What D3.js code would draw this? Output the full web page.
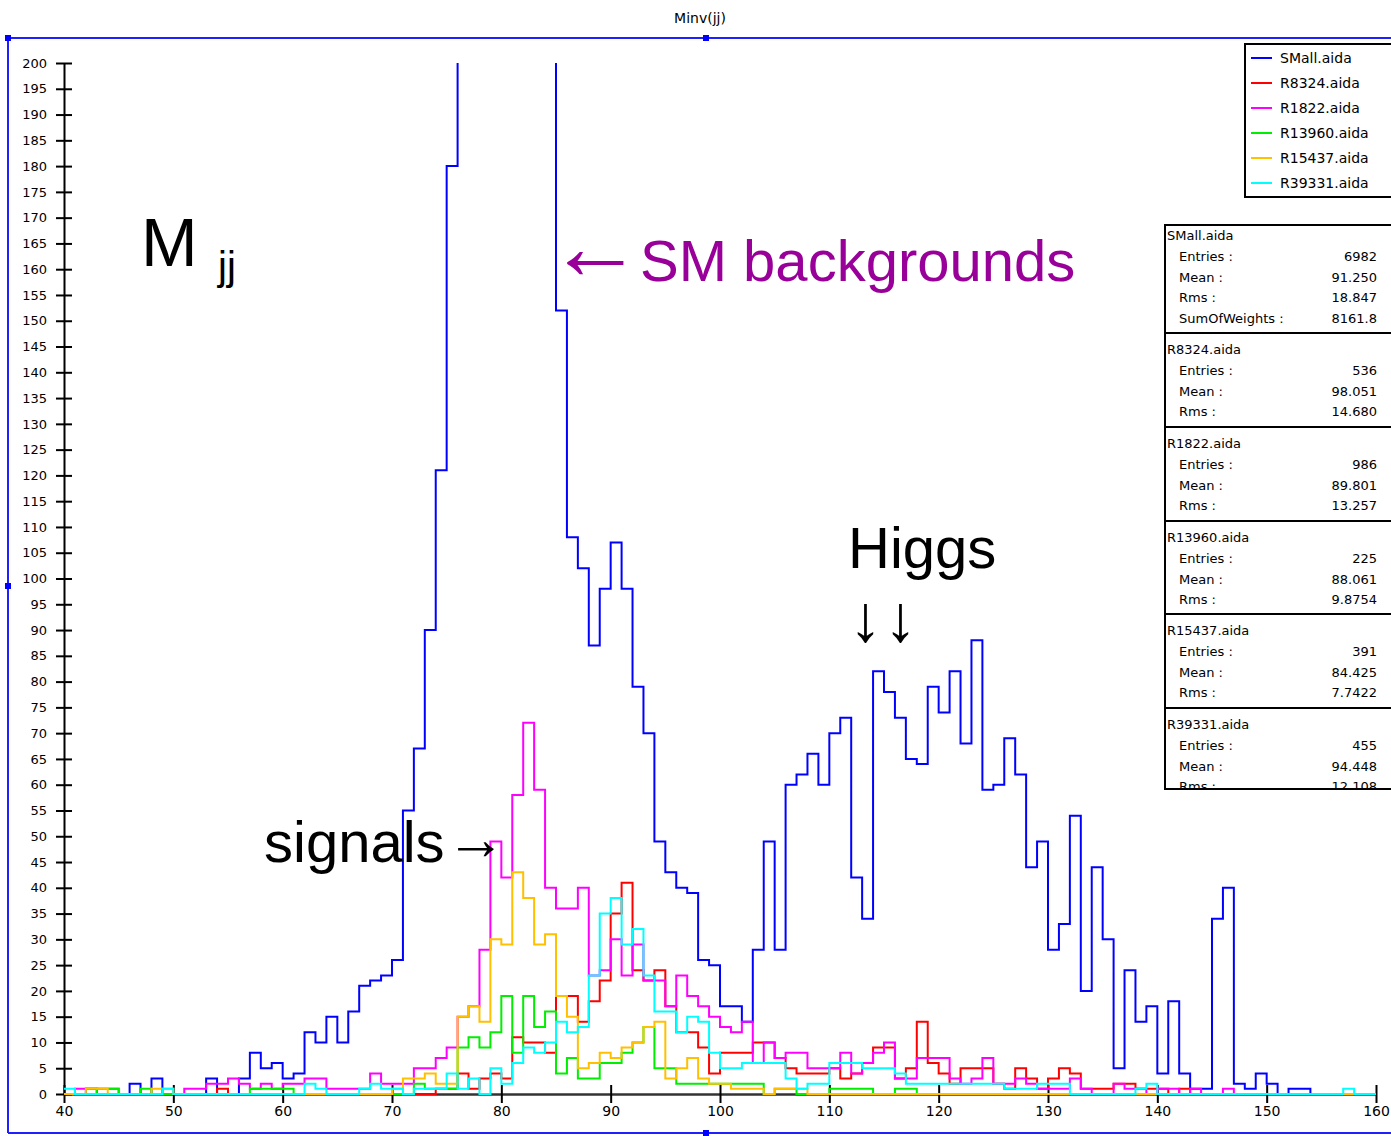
<!DOCTYPE html>
<html><head><meta charset="utf-8">
<script src="https://cdn.jsdelivr.net/npm/d3@7"></script>
<style>body{margin:0;background:#fff;}svg{display:block;}</style>
</head><body>
<svg id="c" width="1391" height="1136"></svg>
<script>
// ---------- data (bins of width 1 from 40 to 160) ----------
const binLow = 40, binHigh = 160;
const seriesNames = ["SMall.aida","R8324.aida","R1822.aida","R13960.aida","R15437.aida","R39331.aida"];
const seriesColors = ["#0000ff","#ff0000","#ff00ff","#00ee00","#ffc000","#00ffff"];
const smAll = [
 0,0,1,0,0,0,2,0,3,0,
 0,0,0,3,0,0,3,8,5,6,
 3,4,12,10,15,10,16,21,22,23,
 26,55,67,90,121,180,260,420,560,640,
 660,620,500,360,215,152,108,102,87,98,
 107,98,79,70,49,43,40,39,26,25,
 17,17,14,28,49,28,60,62,66,60,
 70,73,42,34,82,78,73,65,64,79,
 74,82,68,88,59,60,69,62,44,49,
 28,33,54,20,44,30,5,24,14,17,
 4,18,4,1,1,34,40,2,1,4,
 2,0,1,1,0,0,0,0,0,0];
const r8324 = [
 0,0,0,0,0,0,0,0,0,0,
 0,0,0,0,1,0,0,0,0,0,
 0,0,0,0,0,0,0,0,0,0,
 0,0,0,0,1,1,4,1,3,4,
 3,11,10,10,8,19,19,14,18,22,
 35,41,24,22,24,17,12,12,9,4,
 8,8,8,10,10,7,5,4,4,4,
 5,3,4,6,9,9,3,5,14,6,
 4,2,5,5,5,2,1,5,3,1,
 3,5,4,1,1,1,2,2,1,1,
 1,0,1,0,0,0,0,0,0,0,
 0,0,0,0,0,0,0,0,0,0];
const r1822 = [
 0,1,1,1,1,0,0,0,0,0,
 0,1,1,2,2,3,2,1,2,1,
 2,2,3,3,1,1,1,1,4,2,
 2,2,5,5,7,9,15,17,28,49,
 42,58,72,59,40,36,36,40,23,24,
 30,23,29,22,22,17,23,19,17,15,
 13,12,14,6,10,7,8,8,5,5,
 5,8,4,6,8,10,3,3,7,7,
 7,3,2,3,7,2,2,3,2,1,
 1,1,3,1,0,0,2,1,1,0,
 1,1,0,1,0,0,1,0,0,0,
 0,0,0,0,0,0,0,0,0,0];
const r13960 = [
 0,0,0,1,1,0,0,1,0,0,
 0,0,0,0,0,0,0,1,1,1,
 1,0,0,0,0,0,0,0,0,0,
 0,0,2,1,1,1,9,11,9,12,
 19,8,19,13,16,4,7,3,3,6,
 6,8,10,13,5,5,2,2,2,2,
 2,2,2,2,0,1,1,0,0,0,
 1,1,1,1,0,0,1,1,0,0,
 0,0,0,0,0,0,0,0,0,0,
 0,0,0,0,0,0,0,0,0,0,
 0,0,0,0,0,0,0,0,0,0,
 0,0,0,0,0,0,0,0,0,0];
const r15437 = [
 0,0,1,1,0,0,0,0,1,1,
 0,0,0,0,0,0,0,0,0,0,
 0,0,0,0,0,0,0,0,0,0,
 1,3,3,4,2,2,15,17,14,30,
 29,43,38,29,31,19,15,5,6,8,
 7,9,10,13,14,3,5,7,3,2,
 2,1,1,1,0,1,1,1,0,0,
 0,0,0,0,0,0,0,0,0,0,
 0,0,0,0,0,0,0,0,0,0,
 0,0,0,0,0,0,0,0,0,0,
 0,0,0,0,0,0,0,0,0,0,
 0,0,0,0,0,0,0,0,0,0];
const r39331 = [
 1,0,0,0,0,0,0,0,0,1,
 0,0,0,0,0,0,0,0,0,0,
 0,0,2,1,0,0,0,1,2,1,
 1,0,1,1,1,4,1,3,0,5,
 2,6,9,8,10,14,12,13,23,35,
 38,29,32,23,16,16,12,15,14,8,
 5,5,6,6,6,6,3,1,2,2,
 6,6,6,5,5,5,4,2,2,2,
 2,2,2,2,2,2,1,1,1,2,
 2,2,0,0,0,0,0,0,1,2,
 0,0,0,0,0,0,0,0,0,0,
 0,0,0,0,0,0,0,1,0,0];
const seriesValues = [smAll, r8324, r1822, r13960, r15437, r39331];
const xTickValues = d3.range(40, 161, 10);
const yTickValues = d3.range(0, 201, 5);
const statNames = seriesNames;
const statEntries = ["6982","536","986","225","391","455"];
const statMeans = ["91.250","98.051","89.801","88.061","84.425","94.448"];
const statRms = ["18.847","14.680","13.257","9.8754","7.7422","12.108"];
const sumOfWeights = "8161.8";

// ---------- drawing ----------
const svg = d3.select("#c");
const x = d3.scaleLinear().domain([binLow, binHigh]).range([64, 1376]);
const y = d3.scaleLinear().domain([0, 200]).range([1094, 63]);
const tickFont = "'DejaVu Sans', sans-serif";

// outer blue selection frame
const frame = svg.append("g").attr("stroke", "#2020ff").attr("stroke-width", 2).attr("fill", "none");
frame.append("line").attr("x1", 8).attr("x2", 1391).attr("y1", 38).attr("y2", 38);
frame.append("line").attr("x1", 8).attr("x2", 8).attr("y1", 38).attr("y2", 1133);
frame.append("line").attr("x1", 8).attr("x2", 1391).attr("y1", 1133).attr("y2", 1133);
[[8,38],[706,38],[8,586],[706,1133]].forEach(p => {
  svg.append("rect").attr("x", p[0]-3).attr("y", p[1]-3).attr("width", 6).attr("height", 6).attr("fill", "#0000ff");
});

// title
svg.append("text").attr("x", 700).attr("y", 23).attr("text-anchor", "middle")
  .attr("font-family", tickFont).attr("font-size", 14).attr("fill", "#000").text("Minv(jj)");

// axes
const xAxis = svg.append("g").attr("transform", "translate(0,1094)")
  .call(d3.axisBottom(x).tickValues(xTickValues).tickSizeOuter(0).tickFormat(d3.format("d")));
xAxis.select(".domain").attr("stroke", "#333").attr("stroke-width", 2.5);
xAxis.selectAll(".tick line").attr("y1", -9).attr("y2", 9).attr("stroke", "#000").attr("stroke-width", 2);
xAxis.selectAll(".tick text").attr("y", 12).attr("font-family", tickFont).attr("font-size", 14).attr("fill", "#000");

const yAxis = svg.append("g").attr("transform", "translate(64,0)")
  .call(d3.axisLeft(y).tickValues(yTickValues).tickSizeOuter(0).tickFormat(d3.format("d")));
yAxis.select(".domain").attr("stroke", "#000").attr("stroke-width", 2);
yAxis.selectAll(".tick line").attr("x1", -8).attr("x2", 8).attr("stroke", "#000").attr("stroke-width", 2);
yAxis.selectAll(".tick text").attr("x", -17).attr("font-family", tickFont).attr("font-size", 13).attr("fill", "#000");

// clip for histograms
svg.append("clipPath").attr("id", "plotclip").append("rect")
  .attr("x", 0).attr("y", y(200)).attr("width", 1391).attr("height", 1136 - y(200));

const line = d3.line().x(d => x(d[0])).y(d => y(d[1])).curve(d3.curveStepAfter);
const hg = svg.append("g").attr("clip-path", "url(#plotclip)");
seriesValues.forEach((vals, si) => {
  const pts = vals.map((v, i) => [binLow + i, v]);
  pts.push([binHigh, vals[vals.length - 1]]);
  hg.append("path").datum(pts).attr("d", line).attr("fill", "none")
    .attr("stroke", seriesColors[si]).attr("stroke-width", 2);
});

// annotations
const bigFont = "'Liberation Sans', Arial, sans-serif";
svg.append("text").attr("x", 141).attr("y", 266).attr("font-family", bigFont).attr("font-size", 68).attr("fill", "#000").text("M");
svg.append("text").attr("x", 218).attr("y", 280).attr("font-family", bigFont).attr("font-size", 40).attr("fill", "#000").text("jj");

svg.append("text").attr("x", 548).attr("y", 279).attr("font-family", bigFont).attr("font-size", 95).attr("fill", "#990099").text("←");
svg.append("text").attr("x", 640).attr("y", 281).attr("font-family", bigFont).attr("font-size", 58).attr("fill", "#990099").text("SM backgrounds");

svg.append("text").attr("x", 848).attr("y", 568).attr("font-family", bigFont).attr("font-size", 58).attr("fill", "#000").text("Higgs");
svg.append("text").attr("x", 849).attr("y", 641).attr("font-family", bigFont).attr("font-size", 66).attr("letter-spacing", 2).attr("fill", "#000").text("↓↓");

svg.append("text").attr("x", 264).attr("y", 862).attr("font-family", bigFont).attr("font-size", 58).attr("fill", "#000").text("signals");
svg.append("text").attr("x", 446).attr("y", 859).attr("font-family", bigFont).attr("font-size", 60).attr("fill", "#000").text("→");

// legend
const lg = svg.append("g");
lg.append("rect").attr("x", 1245).attr("y", 44).attr("width", 160).attr("height", 153)
  .attr("fill", "#fff").attr("stroke", "#000").attr("stroke-width", 2);
seriesNames.forEach((n, i) => {
  const cy = 58 + i * 25;
  lg.append("line").attr("x1", 1251).attr("x2", 1272).attr("y1", cy).attr("y2", cy)
    .attr("stroke", seriesColors[i]).attr("stroke-width", 2);
  lg.append("text").attr("x", 1280).attr("y", cy + 5).attr("font-family", tickFont)
    .attr("font-size", 14).attr("fill", "#000").text(n);
});

// statistics box
const sb = svg.append("g");
svg.append("clipPath").attr("id", "statclip").append("rect").attr("x", 1165).attr("y", 225).attr("width", 240).attr("height", 564);
sb.append("rect").attr("x", 1165).attr("y", 225).attr("width", 240).attr("height", 564)
  .attr("fill", "#fff").attr("stroke", "#000").attr("stroke-width", 2);
const st = sb.append("g").attr("clip-path", "url(#statclip)");
const sectionTops = [225, 333, 427, 521, 614, 708];
sectionTops.forEach((top, i) => {
  if (i > 0) st.append("line").attr("x1", 1165).attr("x2", 1405).attr("y1", top).attr("y2", top).attr("stroke", "#000").attr("stroke-width", 2);
  const rows = [["Entries :", statEntries[i]], ["Mean :", statMeans[i]], ["Rms :", statRms[i]]];
  if (i === 0) rows.push(["SumOfWeights :", sumOfWeights]);
  const base = top + (i === 0 ? 15 : 21);
  st.append("text").attr("x", 1167).attr("y", base).attr("font-family", tickFont).attr("font-size", 13).attr("fill", "#000").text(statNames[i]);
  rows.forEach((r, j) => {
    const yy = base + 20.8 * (j + 1);
    st.append("text").attr("x", 1179).attr("y", yy).attr("font-family", tickFont).attr("font-size", 13).attr("fill", "#000").text(r[0]);
    st.append("text").attr("x", 1377).attr("y", yy).attr("text-anchor", "end").attr("font-family", tickFont).attr("font-size", 13).attr("fill", "#000").text(r[1]);
  });
});
sb.append("line").attr("x1", 1165).attr("x2", 1405).attr("y1", 789).attr("y2", 789).attr("stroke", "#000").attr("stroke-width", 2);
</script>
</body></html>
